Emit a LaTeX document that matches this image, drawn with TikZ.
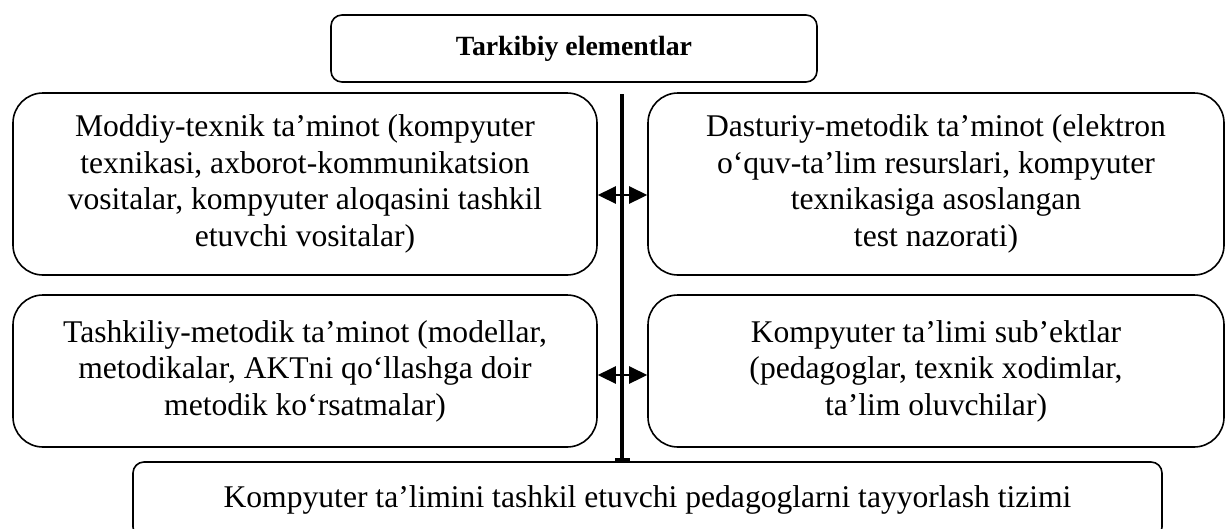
\documentclass[tikz,border=0pt]{standalone}
\usepackage{fontspec}
\setmainfont{Liberation Serif}
\usetikzlibrary{arrows.meta}
\begin{document}
\begin{tikzpicture}[x=1pt,y=-1pt,
  box/.style={draw,line width=1.6pt,inner sep=0pt,align=center,
    font=\fontsize{31.6}{36.5}\selectfont},
  bigbox/.style={box,rounded corners=30pt},
  smallbox/.style={box,rounded corners=11pt},
  dbl/.style={line width=2.6pt,{Triangle[length=18pt,width=17pt]}-{Triangle[length=18pt,width=17pt]}},
  spine/.style={line width=3.5pt,-{Bar[width=15pt]}}
]
\useasboundingbox (0,0) rectangle (1226,528);
\clip (0,0) rectangle (1226,528);

\node[smallbox,minimum width=486pt,minimum height=67pt,
  font=\fontsize{27.8}{33}\selectfont\bfseries] (top) at (574,48.5)
  {Tarkibiy elementlar};

\node[bigbox,minimum width=584pt,minimum height=182pt] (b1l) at (305,184)
  {Moddiy-texnik ta’minot (kompyuter\\texnikasi, axborot-kommunikatsion\\vositalar, kompyuter aloqasini tashkil\\etuvchi vositalar)};
\node[bigbox,minimum width=576pt,minimum height=182pt] (b1r) at (936,184)
  {Dasturiy-metodik ta’minot (elektron\\o‘quv-ta’lim resurslari, kompyuter\\texnikasiga asoslangan\\test nazorati)};

\node[bigbox,minimum width=584pt,minimum height=152pt] (b2l) at (305,371)
  {Tashkiliy-metodik ta’minot (modellar,\\metodikalar, AKTni qo‘llashga doir\\metodik ko‘rsatmalar)};
\node[bigbox,minimum width=576pt,minimum height=152pt] (b2r) at (936,371)
  {Kompyuter ta’limi sub’ektlar\\(pedagoglar, texnik xodimlar,\\ta’lim oluvchilar)};

\node[smallbox,minimum width=1029pt,minimum height=76pt] (bot) at (647.5,500)
  {Kompyuter ta’limini tashkil etuvchi pedagoglarni tayyorlash tizimi};

\coordinate (vtop) at (622,94);
\coordinate (a1) at (622,195);
\coordinate (a2) at (622,375);

\draw[spine] (vtop) -- (vtop |- bot.north);
\draw[dbl] (b1l.east |- a1) -- (b1r.west |- a1);
\draw[dbl] (b2l.east |- a2) -- (b2r.west |- a2);
\end{tikzpicture}
\end{document}
